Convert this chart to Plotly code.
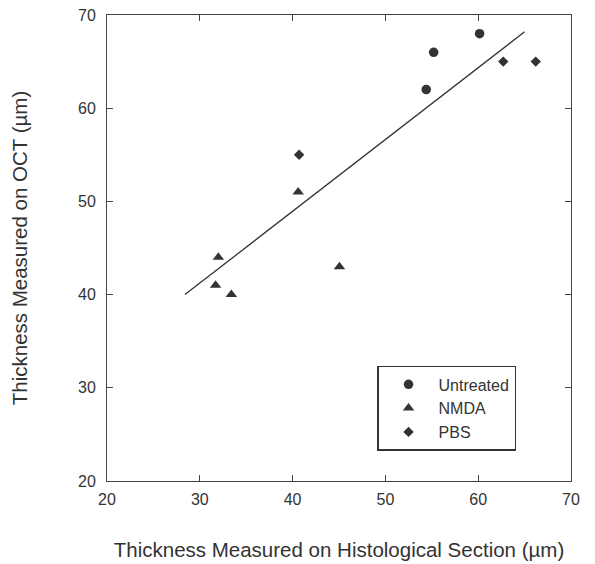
import plotly.graph_objects as go

untreated_x = [60.15, 55.2, 54.4]
untreated_y = [68.0, 66.0, 62.0]
nmda_x = [32.0, 31.7, 33.4, 40.6, 45.05]
nmda_y = [44.0, 41.0, 40.0, 51.0, 43.0]
pbs_x = [40.7, 62.7, 66.2]
pbs_y = [55.0, 65.0, 65.0]
fit_x = [28.4, 65.0]
fit_y = [40.0, 68.2]
ticks = [20, 30, 40, 50, 60, 70]

ink = "#333333"
font_family = "Arial, Liberation Sans, sans-serif"
fig = go.Figure()
fig.add_trace(go.Scatter(x=fit_x, y=fit_y, mode="lines", line=dict(color=ink, width=1.3), showlegend=False))
fig.add_trace(go.Scatter(x=untreated_x, y=untreated_y, mode="markers", name="Untreated",
                         marker=dict(symbol="circle", size=9.5, color=ink)))
fig.add_trace(go.Scatter(x=nmda_x, y=nmda_y, mode="markers", name="NMDA",
                         marker=dict(symbol="triangle-up", size=10, color=ink)))
fig.add_trace(go.Scatter(x=pbs_x, y=pbs_y, mode="markers", name="PBS",
                         marker=dict(symbol="diamond", size=8, color=ink)))

axis_common = dict(showline=True, linecolor="#444444", linewidth=1, mirror="ticks",
                   ticks="inside", ticklen=6, tickcolor="#444444", showgrid=False, zeroline=False,
                   automargin=False, ticklabeloverflow="allow",
                   tickfont=dict(family=font_family, size=16, color=ink))
fig.update_xaxes(range=[20, 70], tickvals=ticks, ticklabelstandoff=4, **axis_common,
                 title=dict(text="Thickness Measured on Histological Section (µm)",
                            font=dict(family=font_family, size=20.5, color=ink),
                            standoff=35))
fig.update_yaxes(range=[20, 70], tickvals=ticks, ticklabelstandoff=7, **axis_common,
                 title=dict(text="Thickness Measured on OCT (µm)",
                            font=dict(family=font_family, size=20.5, color=ink),
                            standoff=52))
fig.update_layout(width=587, height=556, margin=dict(l=99, r=24, t=7, b=83),
                  plot_bgcolor="white", paper_bgcolor="white",
                  legend=dict(x=0.582, y=0.247, xanchor="left", yanchor="top",
                              bordercolor="#333333", borderwidth=1.5, bgcolor="white",
                              font=dict(family=font_family, size=16, color=ink),
                              itemwidth=50, tracegroupgap=0))
fig.write_html("out.html")
